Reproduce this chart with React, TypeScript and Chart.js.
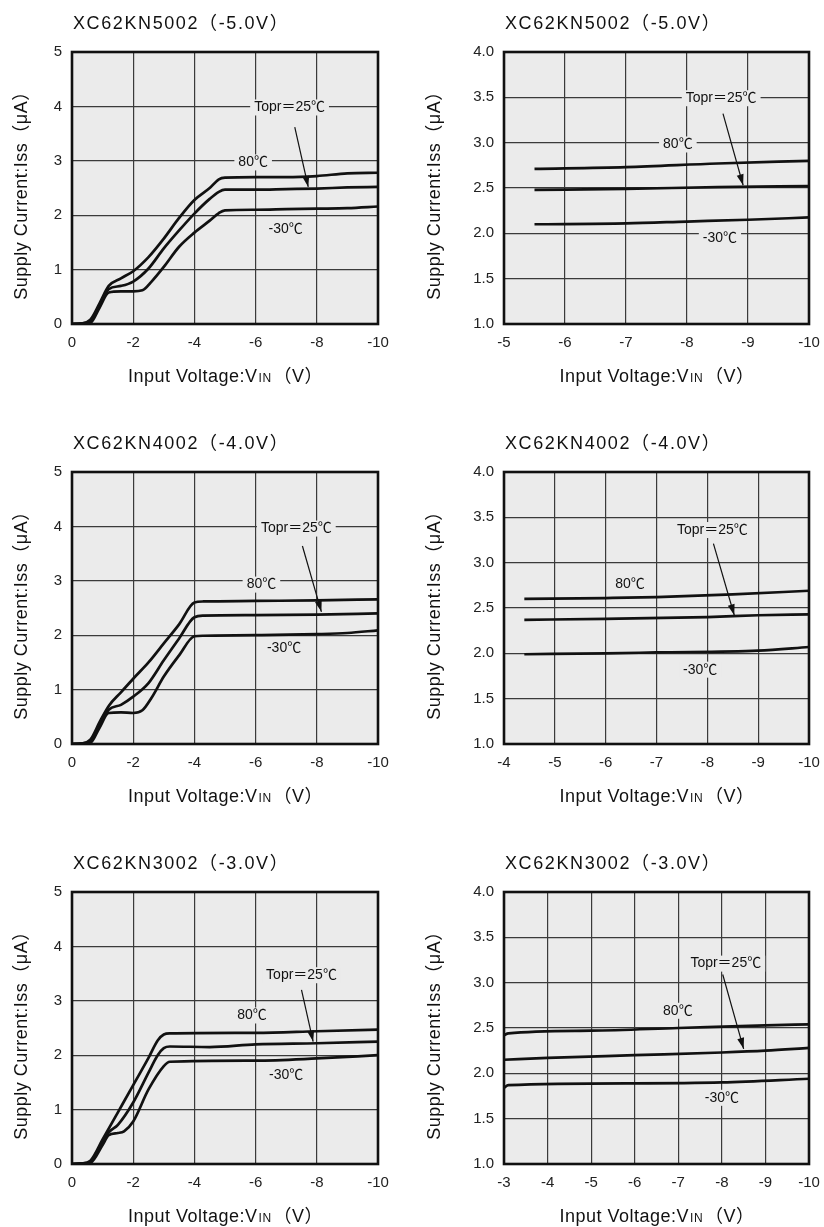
import React, { useEffect, useRef } from 'react';
import { Chart, registerables } from 'chart.js';

Chart.register(...registerables);

type Pt = [number, number];

const FONT = '"Liberation Sans", Arial, "Noto Sans CJK SC", sans-serif';
const BG = '#ebebeb';
const INK = '#111111';
const GRID = '#3a3a3a';

// ---------- titles / labels ----------
const titles5 = 'XC62KN5002（-5.0V）';
const titles4 = 'XC62KN4002（-4.0V）';
const titles3 = 'XC62KN3002（-3.0V）';
const yAxisTitle = 'Supply Current:Iss（μA）';
const xAxisTitleMain = 'Input Voltage:V';
const xAxisTitleSub = 'IN';
const xAxisTitleUnit = '（V）';
const labelTopr = 'Topr＝25℃';
const label80 = '80℃';
const label30 = '-30℃';

// ---------- XC62KN5002 full range (VIN, Iss) ----------
const kn5002Full80: Pt[] = [[0, 0], [-0.3, 0.01], [-0.6, 0.08], [-0.9, 0.38], [-1.2, 0.7], [-1.6, 0.84], [-2, 0.97], [-2.5, 1.23], [-3, 1.57], [-3.5, 1.95], [-4, 2.28], [-4.5, 2.5], [-4.8, 2.66], [-5, 2.69], [-6, 2.7], [-7, 2.7], [-8, 2.72], [-9, 2.77], [-10, 2.78]];
const kn5002Full25: Pt[] = [[0, 0], [-0.3, 0.01], [-0.6, 0.05], [-0.9, 0.35], [-1.2, 0.64], [-1.6, 0.7], [-2, 0.78], [-2.5, 1.02], [-3, 1.39], [-3.5, 1.72], [-4, 2.03], [-4.5, 2.3], [-4.8, 2.43], [-5, 2.47], [-6, 2.47], [-7, 2.48], [-8, 2.49], [-9, 2.51], [-10, 2.52]];
const kn5002FullM30: Pt[] = [[0, 0], [-0.3, 0], [-0.6, 0.02], [-0.9, 0.3], [-1.2, 0.58], [-1.6, 0.6], [-2, 0.6], [-2.3, 0.62], [-2.6, 0.78], [-3, 1.05], [-3.5, 1.42], [-4, 1.68], [-4.5, 1.9], [-4.8, 2.04], [-5, 2.09], [-6, 2.1], [-7, 2.11], [-8, 2.12], [-9, 2.13], [-10, 2.16]];

// ---------- XC62KN5002 zoomed ----------
const kn5002Zoom80: Pt[] = [[-5.5, 2.71], [-7, 2.73], [-8.5, 2.77], [-10, 2.8]];
const kn5002Zoom25: Pt[] = [[-5.5, 2.48], [-7, 2.49], [-8.5, 2.51], [-10, 2.52]];
const kn5002ZoomM30: Pt[] = [[-5.5, 2.1], [-7, 2.11], [-8, 2.13], [-9, 2.15], [-10, 2.175]];

// ---------- XC62KN4002 full range ----------
const kn4002Full80: Pt[] = [[0, 0], [-0.3, 0.01], [-0.6, 0.08], [-0.9, 0.4], [-1.2, 0.7], [-1.6, 0.95], [-2, 1.2], [-2.5, 1.5], [-3, 1.85], [-3.5, 2.2], [-4, 2.6], [-4.3, 2.62], [-6, 2.63], [-8, 2.64], [-10, 2.66]];
const kn4002Full25: Pt[] = [[0, 0], [-0.3, 0.01], [-0.6, 0.05], [-0.9, 0.35], [-1.2, 0.63], [-1.6, 0.72], [-2, 0.87], [-2.5, 1.12], [-3, 1.54], [-3.5, 1.94], [-4, 2.33], [-4.3, 2.36], [-6, 2.37], [-8, 2.38], [-10, 2.4]];
const kn4002FullM30: Pt[] = [[0, 0], [-0.3, 0], [-0.6, 0.02], [-0.9, 0.3], [-1.2, 0.57], [-1.6, 0.58], [-2, 0.57], [-2.3, 0.62], [-2.6, 0.85], [-3, 1.24], [-3.5, 1.63], [-4, 1.98], [-4.3, 1.99], [-6, 2.0], [-8, 2.02], [-9, 2.04], [-10, 2.09]];

// ---------- XC62KN4002 zoomed ----------
const kn4002Zoom80: Pt[] = [[-4.4, 2.6], [-6, 2.61], [-7, 2.62], [-8.5, 2.65], [-10, 2.69]];
const kn4002Zoom25: Pt[] = [[-4.4, 2.37], [-6, 2.38], [-8, 2.4], [-9, 2.42], [-10, 2.43]];
const kn4002ZoomM30: Pt[] = [[-4.4, 1.99], [-6, 2.0], [-7, 2.01], [-9, 2.03], [-10, 2.07]];

// ---------- XC62KN3002 full range ----------
const kn3002Full80: Pt[] = [[0, 0], [-0.3, 0.01], [-0.6, 0.06], [-1, 0.45], [-1.5, 0.95], [-2, 1.45], [-2.5, 1.95], [-2.8, 2.27], [-3, 2.38], [-3.2, 2.4], [-6, 2.41], [-8, 2.44], [-10, 2.47]];
const kn3002Full25: Pt[] = [[0, 0], [-0.3, 0.01], [-0.6, 0.04], [-1, 0.4], [-1.2, 0.58], [-1.5, 0.72], [-2, 1.13], [-2.5, 1.68], [-2.8, 2.0], [-3, 2.13], [-3.2, 2.16], [-4.5, 2.15], [-6, 2.2], [-8, 2.22], [-10, 2.25]];
const kn3002FullM30: Pt[] = [[0, 0], [-0.3, 0], [-0.6, 0.02], [-1, 0.35], [-1.2, 0.53], [-1.5, 0.57], [-1.7, 0.6], [-2, 0.78], [-2.5, 1.37], [-3, 1.8], [-3.2, 1.88], [-6, 1.9], [-8, 1.94], [-10, 2.0]];

// ---------- XC62KN3002 zoomed ----------
const kn3002Zoom80: Pt[] = [[-3, 2.42], [-3.1, 2.44], [-5, 2.47], [-7, 2.5], [-9, 2.53], [-10, 2.54]];
const kn3002Zoom25: Pt[] = [[-3, 2.15], [-4, 2.17], [-6, 2.2], [-8, 2.23], [-9, 2.25], [-10, 2.28]];
const kn3002ZoomM30: Pt[] = [[-3, 1.84], [-3.1, 1.87], [-6, 1.89], [-8, 1.9], [-10, 1.94]];

// ---------- annotation anchors (VIN, Iss) ----------
const anno5Full = { topr: [-7.11, 3.98] as Pt, arrowFrom: [-7.28, 3.62] as Pt, arrowTo: [-7.72, 2.52] as Pt, l80: [-5.92, 2.97] as Pt, l30: [-6.98, 1.74] as Pt };
const anno5Zoom = { topr: [-8.56, 3.49] as Pt, arrowFrom: [-8.59, 3.32] as Pt, arrowTo: [-8.92, 2.53] as Pt, l80: [-7.85, 2.98] as Pt, l30: [-8.54, 1.95] as Pt };
const anno4Full = { topr: [-7.33, 3.96] as Pt, arrowFrom: [-7.53, 3.64] as Pt, arrowTo: [-8.15, 2.43] as Pt, l80: [-6.19, 2.93] as Pt, l30: [-6.93, 1.76] as Pt };
const anno4Zoom = { topr: [-8.1, 3.36] as Pt, arrowFrom: [-8.12, 3.21] as Pt, arrowTo: [-8.53, 2.42] as Pt, l80: [-6.48, 2.76] as Pt, l30: [-7.86, 1.82] as Pt };
const anno3Full = { topr: [-7.5, 3.47] as Pt, arrowFrom: [-7.5, 3.2] as Pt, arrowTo: [-7.88, 2.25] as Pt, l80: [-5.88, 2.73] as Pt, l30: [-7.0, 1.63] as Pt };
const anno3Zoom = { topr: [-8.09, 3.21] as Pt, arrowFrom: [-8.02, 3.09] as Pt, arrowTo: [-8.5, 2.27] as Pt, l80: [-6.99, 2.69] as Pt, l30: [-8.0, 1.73] as Pt };

// ---------- axis ranges ----------
const fullX = { min: -10, max: 0, step: 2 };
const fullY = { min: 0, max: 5, step: 1, dec: 0 };
const zoomY = { min: 1, max: 4, step: 0.5, dec: 1 };
const zoomX5 = { min: -10, max: -5, step: 1 };
const zoomX4 = { min: -10, max: -4, step: 1 };
const zoomX3 = { min: -10, max: -3, step: 1 };

interface Spec {
  title: string;
  x: { min: number; max: number; step: number };
  y: { min: number; max: number; step: number; dec: number };
  series: Pt[][];
  anno: { topr: Pt; arrowFrom: Pt; arrowTo: Pt; l80: Pt; l30: Pt };
}

const specs: Spec[] = [
  { title: titles5, x: fullX, y: fullY, series: [kn5002Full80, kn5002Full25, kn5002FullM30], anno: anno5Full },
  { title: titles5, x: zoomX5, y: zoomY, series: [kn5002Zoom80, kn5002Zoom25, kn5002ZoomM30], anno: anno5Zoom },
  { title: titles4, x: fullX, y: fullY, series: [kn4002Full80, kn4002Full25, kn4002FullM30], anno: anno4Full },
  { title: titles4, x: zoomX4, y: zoomY, series: [kn4002Zoom80, kn4002Zoom25, kn4002ZoomM30], anno: anno4Zoom },
  { title: titles3, x: fullX, y: fullY, series: [kn3002Full80, kn3002Full25, kn3002FullM30], anno: anno3Full },
  { title: titles3, x: zoomX3, y: zoomY, series: [kn3002Zoom80, kn3002Zoom25, kn3002ZoomM30], anno: anno3Zoom },
];

const ROW_TOPS = [0, 420, 840];
const ROW_HEIGHTS = [420, 420, 387];
const COL_LEFTS = [0, 412];
const CANVAS_W = 412;
const PLOT_LEFT = [72, 92];
const PLOT_RIGHT = [378, 397];
const PLOT_TOP = 52;
const PLOT_BOTTOM = 324;

function setSpacing(ctx: any, v: string) {
  if ('letterSpacing' in ctx) ctx.letterSpacing = v;
}

function Panel({ spec, col, row }: { spec: Spec; col: number; row: number }) {
  const ref = useRef<HTMLCanvasElement>(null);
  const H = ROW_HEIGHTS[row];
  const W = CANVAS_W;
  useEffect(() => {
    const canvas = ref.current;
    if (!canvas) return;
    const plotLeft = PLOT_LEFT[col];
    const plotRight = PLOT_RIGHT[col];

    const deco = {
      id: 'deco',
      beforeDraw(chart: any) {
        const { ctx, chartArea: a } = chart;
        ctx.save();
        ctx.fillStyle = BG;
        ctx.fillRect(a.left, a.top, a.right - a.left, a.bottom - a.top);
        ctx.restore();
      },
      afterDatasetsDraw(chart: any) {
        const { ctx } = chart;
        const xs = chart.scales.x;
        const ys = chart.scales.y;
        const px = (p: Pt) => [xs.getPixelForValue(p[0]), ys.getPixelForValue(p[1])];
        ctx.save();
        ctx.font = `14px ${FONT}`;
        ctx.textAlign = 'center';
        ctx.textBaseline = 'middle';
        const drawLabel = (text: string, p: Pt) => {
          const [x, y] = px(p);
          const w = ctx.measureText(text).width;
          ctx.fillStyle = BG;
          ctx.fillRect(x - w / 2 - 4, y - 8, w + 8, 16);
          ctx.fillStyle = INK;
          ctx.fillText(text, x, y);
        };
        drawLabel(labelTopr, spec.anno.topr);
        drawLabel(label80, spec.anno.l80);
        drawLabel(label30, spec.anno.l30);
        // arrow
        const [x1, y1] = px(spec.anno.arrowFrom);
        const [x2, y2] = px(spec.anno.arrowTo);
        ctx.strokeStyle = INK;
        ctx.lineWidth = 1.2;
        ctx.beginPath();
        ctx.moveTo(x1, y1);
        ctx.lineTo(x2, y2);
        ctx.stroke();
        const ang = Math.atan2(y2 - y1, x2 - x1);
        const L = 11;
        const Wd = 3.5;
        ctx.fillStyle = INK;
        ctx.beginPath();
        ctx.moveTo(x2, y2);
        ctx.lineTo(x2 - L * Math.cos(ang) + Wd * Math.sin(ang), y2 - L * Math.sin(ang) - Wd * Math.cos(ang));
        ctx.lineTo(x2 - L * Math.cos(ang) - Wd * Math.sin(ang), y2 - L * Math.sin(ang) + Wd * Math.cos(ang));
        ctx.closePath();
        ctx.fill();
        ctx.restore();
      },
      afterDraw(chart: any) {
        const { ctx, chartArea: a } = chart;
        ctx.save();
        ctx.strokeStyle = INK;
        ctx.lineWidth = 2.6;
        ctx.strokeRect(a.left, a.top, a.right - a.left, a.bottom - a.top);
        // title
        ctx.fillStyle = INK;
        ctx.font = `18px ${FONT}`;
        setSpacing(ctx, '1.6px');
        ctx.textAlign = 'left';
        ctx.textBaseline = 'middle';
        ctx.fillText(spec.title, a.left + 1, 24);
        // y axis title
        ctx.font = `18px ${FONT}`;
        setSpacing(ctx, '0.5px');
        ctx.save();
        ctx.translate(col === 0 ? 22 : 23, 191);
        ctx.rotate(-Math.PI / 2);
        ctx.textAlign = 'center';
        ctx.fillText(yAxisTitle, 0, 0);
        ctx.restore();
        // x axis title
        const big = `18px ${FONT}`;
        const small = `12px ${FONT}`;
        ctx.font = big;
        const w1 = ctx.measureText(xAxisTitleMain).width;
        const w3 = ctx.measureText(xAxisTitleUnit).width;
        ctx.font = small;
        const w2 = ctx.measureText(xAxisTitleSub).width + 2;
        const total = w1 + w2 + w3;
        let x = (a.left + a.right) / 2 - total / 2;
        const yb = 382;
        ctx.textAlign = 'left';
        ctx.textBaseline = 'alphabetic';
        ctx.font = big;
        ctx.fillText(xAxisTitleMain, x, yb);
        x += w1 + 1;
        ctx.font = small;
        ctx.fillText(xAxisTitleSub, x, yb);
        x += w2;
        ctx.font = big;
        ctx.fillText(xAxisTitleUnit, x, yb);
        ctx.restore();
      },
    };

    const chart = new Chart(canvas, {
      type: 'line',
      data: {
        datasets: spec.series.map((s, i) => ({
          label: [label80, '25℃', label30][i],
          data: s.map(([x, y]) => ({ x, y })),
          borderColor: INK,
          borderWidth: 2.7,
          pointRadius: 0,
          fill: false,
          cubicInterpolationMode: 'monotone' as const,
        })),
      },
      options: {
        responsive: false,
        animation: false,
        layout: { padding: { left: 0, right: W - plotRight, top: PLOT_TOP, bottom: 0 } },
        plugins: { legend: { display: false }, tooltip: { enabled: false }, title: { display: false } },
        scales: {
          x: {
            type: 'linear',
            min: spec.x.min,
            max: spec.x.max,
            reverse: true,
            grid: { color: GRID, lineWidth: 1.2, drawTicks: false },
            border: { display: false },
            ticks: {
              stepSize: spec.x.step,
              padding: 10,
              color: '#222',
              font: { size: 15, family: FONT },
              maxRotation: 0,
              autoSkip: false,
              callback: (v: any) => String(v),
            },
            afterFit: (s: any) => {
              s.height = H - PLOT_BOTTOM;
              s.paddingLeft = 0;
              s.paddingRight = 0;
            },
          },
          y: {
            type: 'linear',
            min: spec.y.min,
            max: spec.y.max,
            grid: { color: GRID, lineWidth: 1.2, drawTicks: false },
            border: { display: false },
            ticks: {
              stepSize: spec.y.step,
              padding: 10,
              color: '#222',
              font: { size: 15, family: FONT },
              autoSkip: false,
              callback: (v: any) => Number(v).toFixed(spec.y.dec),
            },
            afterFit: (s: any) => {
              s.width = plotLeft;
              s.paddingTop = 0;
              s.paddingBottom = 0;
            },
          },
        },
      },
      plugins: [deco],
    } as any);
    return () => chart.destroy();
  }, []);
  return (
    <canvas
      ref={ref}
      width={W}
      height={H}
      style={{ position: 'absolute', left: COL_LEFTS[col], top: ROW_TOPS[row], width: W, height: H }}
    />
  );
}

export default function App() {
  return (
    <div style={{ position: 'absolute', left: 0, top: 0, width: 824, height: 1227, background: '#fff', overflow: 'hidden' }}>
      {specs.map((s, i) => (
        <Panel key={i} spec={s} col={i % 2} row={Math.floor(i / 2)} />
      ))}
    </div>
  );
}
